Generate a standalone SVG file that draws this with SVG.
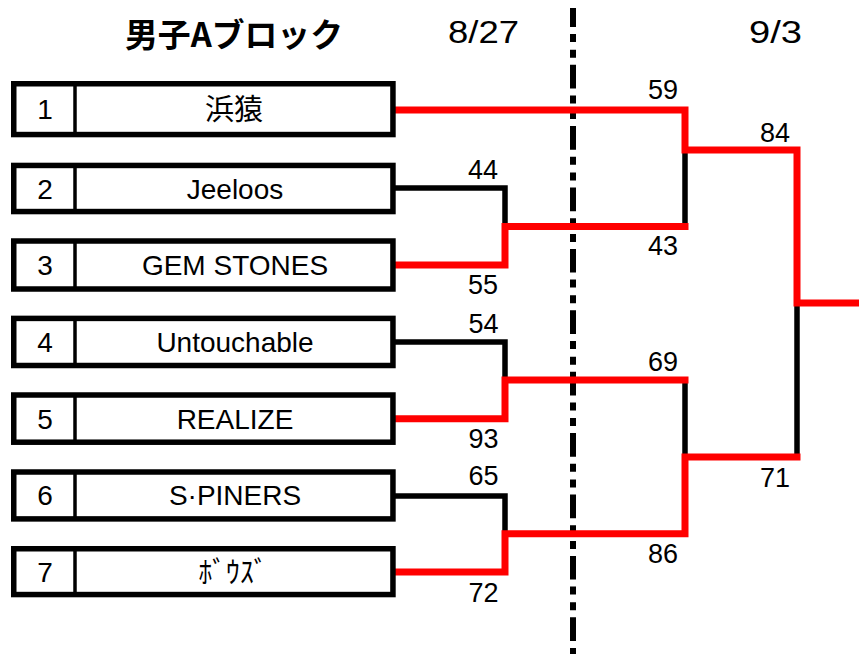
<svg xmlns="http://www.w3.org/2000/svg" width="859" height="654" viewBox="0 0 859 654">
<style>
.box{fill:#fff;stroke:#000;stroke-width:5.5}
.div{stroke:#000;stroke-width:3.5}
.num{font-family:"Liberation Sans",Arial,sans-serif;font-size:28px;text-anchor:middle;fill:#000}
.name{font-family:"Liberation Sans","Noto Sans CJK JP",sans-serif;font-size:28px;text-anchor:middle;fill:#000}
.jp{font-family:"Noto Sans CJK JP",sans-serif;font-size:29px;text-anchor:middle;fill:#000}
.score{font-family:"Liberation Sans",Arial,sans-serif;font-size:27px;text-anchor:middle;fill:#000}
.date{font-family:"Liberation Sans",Arial,sans-serif;font-size:32px;fill:#000}
.title{font-family:"Noto Sans CJK JP",sans-serif;font-size:33px;font-weight:bold;text-anchor:middle;fill:#000}
.lose{fill:none;stroke:#000;stroke-width:5.5;stroke-linejoin:miter}
.win{fill:none;stroke:#f00;stroke-width:7;stroke-linejoin:miter;stroke-linecap:square}
</style>
<rect width="859" height="654" fill="#fff"/>
<g id="title"><text class="title" x="234" y="47" textLength="218" lengthAdjust="spacingAndGlyphs">男子Aブロック</text></g>
<g id="dates">
<text class="date" x="448" y="43" textLength="71" lengthAdjust="spacingAndGlyphs">8/27</text>
<text class="date" x="749" y="43" textLength="53" lengthAdjust="spacingAndGlyphs">9/3</text>
</g>
<line id="dayline" x1="573" y1="8" x2="573" y2="654" stroke="#000" stroke-width="6" stroke-dasharray="23.7 7 8 7.7 8 7" stroke-dashoffset="4.7"/>
<g id="connectors">
<path class="lose" d="M393,188 H505 V226.5"/>
<path class="lose" d="M393,342 H505 V380"/>
<path class="lose" d="M393,496 H505 V533.7"/>
<path class="lose" d="M685,150 V226.5"/>
<path class="lose" d="M685,380 V457"/>
<path class="lose" d="M797,303 V457"/>
<path class="win" d="M393,110 H685 V150 H797 V303 H862"/>
<path class="win" d="M393,265 H505 V226.5 H685"/>
<path class="win" d="M393,418.7 H505 V380 H685"/>
<path class="win" d="M393,572 H505 V533.7 H685 V457 H797"/>
</g>
<g id="team1"><rect class="box" x="13.75" y="83.75" width="379.2" height="50.8"/><line class="div" x1="75" y1="84" x2="75" y2="134.5"/><text class="num" x="45" y="119">1</text><text class="jp" x="234" y="120">浜猿</text></g>
<g id="team2"><rect class="box" x="13.75" y="165.45" width="379.2" height="46.1"/><line class="div" x1="75" y1="165.5" x2="75" y2="211.5"/><text class="num" x="45" y="199">2</text><text class="name" x="235" y="198.5">Jeeloos</text></g>
<g id="team3"><rect class="box" x="13.75" y="241" width="379.2" height="48"/><line class="div" x1="75" y1="241" x2="75" y2="289"/><text class="num" x="45" y="275">3</text><text class="name" x="235" y="275">GEM STONES</text></g>
<g id="team4"><rect class="box" x="13.75" y="318.4" width="379.2" height="47.1"/><line class="div" x1="75" y1="318.4" x2="75" y2="365.5"/><text class="num" x="45" y="352">4</text><text class="name" x="235" y="352">Untouchable</text></g>
<g id="team5"><rect class="box" x="13.75" y="395" width="379.2" height="47.2"/><line class="div" x1="75" y1="395" x2="75" y2="442.2"/><text class="num" x="45" y="429">5</text><text class="name" x="235" y="429">REALIZE</text></g>
<g id="team6"><rect class="box" x="13.75" y="472" width="379.2" height="46.9"/><line class="div" x1="75" y1="472" x2="75" y2="518.9"/><text class="num" x="45" y="505">6</text><text class="name" x="235" y="505">S·PINERS</text></g>
<g id="team7"><rect class="box" x="13.75" y="548.75" width="379.2" height="45.8"/><line class="div" x1="75" y1="548.75" x2="75" y2="594.5"/><text class="num" x="45" y="582">7</text><text class="jp" x="233" y="583" font-size="31" textLength="69" lengthAdjust="spacingAndGlyphs">ﾎﾞｳｽﾞ</text></g>
<g id="scores">
<text class="score" x="483" y="179">44</text>
<text class="score" x="483" y="294">55</text>
<text class="score" x="663" y="99">59</text>
<text class="score" x="663" y="255">43</text>
<text class="score" x="775" y="141.5">84</text>
<text class="score" x="775" y="486.5">71</text>
<text class="score" x="483.5" y="333">54</text>
<text class="score" x="483.5" y="448">93</text>
<text class="score" x="483.5" y="485">65</text>
<text class="score" x="483.5" y="601.5">72</text>
<text class="score" x="663" y="371">69</text>
<text class="score" x="663" y="563">86</text>
</g>
</svg>
